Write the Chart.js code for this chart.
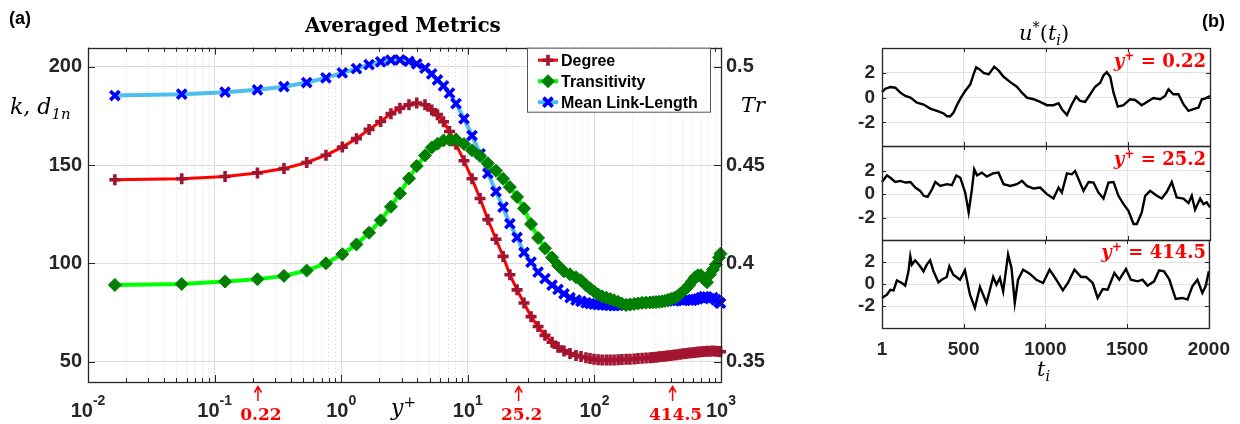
<!DOCTYPE html>
<html>
<head>
<meta charset="utf-8">
<script src="https://cdn.jsdelivr.net/npm/chart.js@4.4.1/dist/chart.umd.min.js"></script>
<style>
  body { margin: 0; background: #fff; width: 1240px; height: 424px; overflow: hidden; position: relative; font-family: "Liberation Sans", Arial, sans-serif; }
  canvas { position: absolute; }
  .lbl { position: absolute; white-space: nowrap; line-height: 1; color: #262626; }
  .math { font-family: "DejaVu Serif", serif; font-style: italic; }
  .tag { font-weight: bold; font-size: 18px; color: #000; }
  .red { color: #ff0000; font-family: "DejaVu Serif", serif; font-weight: bold; font-size: 18px; }
  sup, sub { font-size: 68%; line-height: 0; }
</style>
</head>
<body>
<canvas id="metrics" width="840" height="424" style="left:0;top:0"></canvas>
<canvas id="trace1" width="400" height="140" style="left:840px;top:28px"></canvas>
<canvas id="trace2" width="400" height="135" style="left:840px;top:126px"></canvas>
<canvas id="trace3" width="400" height="164" style="left:840px;top:220px"></canvas>

<div class="lbl tag" style="left:9px;top:9px">(a)</div>
<div class="lbl tag" style="left:1202px;top:12px">(b)</div>
<div class="lbl" style="left:305px;top:15px;font-family:'DejaVu Serif',serif;font-weight:bold;font-size:20px;color:#000">Averaged Metrics</div>
<div class="lbl math" style="left:10px;top:96px;font-size:22px;color:#000"><i>k</i>, <i>d</i><sub>1<i>n</i></sub></div>
<div class="lbl math" style="left:741px;top:95px;font-size:21px;color:#000">Tr</div>
<div class="lbl math" style="left:391px;top:397px;font-size:22px;color:#000">y<sup style="font-style:normal">+</sup></div>
<div class="lbl math" style="left:1019px;top:23px;font-size:21px;color:#000">u<sup style="font-style:normal">*</sup><span style="font-style:normal">(</span>t<sub>i</sub><span style="font-style:normal">)</span></div>
<div class="lbl math" style="left:1037px;top:359px;font-size:21px;color:#000">t<sub>i</sub></div>
<div class="lbl red" style="right:34px;top:52px"><i>y</i><sup>+</sup> = 0.22</div>
<div class="lbl red" style="right:34px;top:150px"><i>y</i><sup>+</sup> = 25.2</div>
<div class="lbl red" style="right:34px;top:243px"><i>y</i><sup>+</sup> = 414.5</div>

<script>
// ---------- panel (a): averaged network metrics against y+
const yPlus = [0.0163, 0.055, 0.121, 0.218, 0.353, 0.534, 0.758, 1.02, 1.32, 1.66,
  2.05, 2.47, 2.91, 3.43, 3.95, 4.59, 5.19, 5.76, 6.43, 7.17,
  8.07, 9.33, 10.8, 12.5, 14.4, 16.7, 19.0, 21.5, 24.5, 27.8,
  31.6, 35.9, 40.7, 46.3, 51.6, 57.5, 64.2, 71.6, 78.4, 85.8,
  92.3, 99.3, 107, 115, 124, 133, 143, 154, 165, 178,
  191, 206, 221, 238, 256, 275, 290, 307, 324, 342,
  361, 381, 403, 426, 449, 475, 501, 529, 559, 590,
  623, 658, 695, 734, 775, 819, 865, 913, 964, 991];

const degree = [142.5, 143.0, 144.2, 146.0, 148.2, 151.3, 155.0, 159.1, 163.4, 168.1,
  172.1, 176.1, 178.9, 180.6, 181.5, 180.6, 178.0, 175.6, 172.0, 167.0,
  160.5, 152.2, 143.0, 133.0, 122.3, 112.3, 103.6, 94.3, 86.6, 79.9,
  73.0, 68.0, 63.5, 60.0, 57.5, 55.6, 54.3, 53.3, 52.7, 52.1,
  51.7, 51.3, 51.1, 51.0, 51.0, 51.0, 51.0, 51.1, 51.2, 51.3,
  51.4, 51.5, 51.7, 51.8, 52.0, 52.1, 52.3, 52.4, 52.6, 52.7,
  52.9, 53.1, 53.3, 53.5, 53.7, 53.9, 54.1, 54.3, 54.5, 54.6,
  54.8, 55.0, 55.2, 55.3, 55.4, 55.4, 55.5, 55.4, 55.3, 55.2];

const meanLinkLength = [185.3, 186.0, 187.0, 188.2, 189.8, 191.9, 194.3, 196.8, 199.0, 201.0,
  202.4, 203.3, 203.4, 202.7, 201.4, 199.2, 196.3, 193.2, 190.2, 186.5,
  181.2, 173.5, 165.0, 155.7, 145.8, 136.5, 128.6, 120.2, 113.2, 105.6,
  100.7, 95.6, 92.3, 89.0, 86.8, 84.6, 82.6, 81.4, 80.8, 80.0,
  79.6, 79.3, 79.1, 79.0, 78.8, 78.7, 78.6, 78.7, 78.8, 79.0,
  79.3, 79.5, 79.7, 79.9, 80.1, 80.3, 80.5, 80.5, 80.7, 80.9,
  80.8, 81.1, 81.2, 81.0, 81.3, 81.5, 81.3, 81.6, 81.4, 81.2,
  81.7, 82.0, 82.6, 83.2, 83.0, 82.2, 82.6, 81.5, 80.4, 79.8];

const transitivity = [0.3891, 0.3896, 0.3908, 0.3920, 0.3937, 0.3964, 0.4001, 0.4047, 0.4097, 0.4156,
  0.4219, 0.4288, 0.4356, 0.4432, 0.4495, 0.4549, 0.4589, 0.4608, 0.4625, 0.4628,
  0.4630, 0.4607, 0.4575, 0.4546, 0.4509, 0.4471, 0.4430, 0.4388, 0.4338, 0.4280,
  0.4200, 0.4130, 0.4077, 0.4030, 0.3990, 0.3960, 0.3945, 0.3930, 0.3915, 0.3890,
  0.3874, 0.3858, 0.3843, 0.3833, 0.3826, 0.3820, 0.3813, 0.3805, 0.3796, 0.3789,
  0.3791, 0.3794, 0.3797, 0.3800, 0.3801, 0.3802, 0.3803, 0.3804, 0.3805, 0.3807,
  0.3810, 0.3815, 0.3820, 0.3825, 0.3831, 0.3845, 0.3858, 0.3872, 0.3890, 0.3910,
  0.3930, 0.3940, 0.3940, 0.3920, 0.3905, 0.3945, 0.3970, 0.3995, 0.4030, 0.4050];

// ticks of panel (a)
const xDecades = [0.01, 0.1, 1, 10, 100, 1000];
const xDecadeExp = ['-2', '-1', '0', '1', '2', '3'];
const xMinorSteps = [2, 3, 4, 5, 6, 7, 8, 9];
const kTicks = [50, 100, 150, 200];
const trTicks = [0.35, 0.4, 0.45, 0.5];
const legendOrder = ['Degree', 'Transitivity', 'Mean Link-Length'];

// heights marked with red arrows
const markedYPlus = [0.22, 25.2, 414.5];
const markedLabels = ['0.22', '25.2', '414.5'];

// ---------- panel (b): u*(t_i) at three heights
const t1 = [1, 21, 52, 82, 113, 143, 174, 214, 255, 295, 336, 377, 397, 417, 437, 458, 482, 508, 539, 559,
  575, 596, 620, 651, 685, 711, 742, 783, 823, 854, 884, 925, 965, 1006, 1046, 1077, 1097, 1128, 1158, 1184,
  1209, 1239, 1270, 1300, 1331, 1351, 1371, 1392, 1412, 1438, 1473, 1513, 1544, 1584, 1625, 1655, 1696, 1726, 1747, 1777,
  1808, 1838, 1869, 1899, 1930, 1950, 1970, 2000];
const u1 = [0.45, 0.72, 0.85, 0.8, 0.4, 0.13, 0, -0.4, -0.56, -0.88, -1.07, -1.28, -1.5, -1.5, -1.2, -0.6, 0, 0.53, 1.07, 1.87,
  2.45, 2.27, 2.0, 1.87, 2.48, 2.19, 1.68, 1.25, 0.88, 0.4, 0, -0.13, -0.35, -0.61, -0.61, -0.45, -0.93, -1.41, -0.53, 0.08,
  -0.27, -0.35, 0.27, 0.88, 1.2, 1.79, 2.05, 1.68, 0.4, -0.72, -0.61, -0.13, -0.19, -0.61, -0.27, -0.03, -0.13, 0.13, 0.67, 0.27,
  0.27, -0.53, -1.07, -0.93, -0.8, -0.13, -0.08, 0.13];

const t2 = [1, 31, 52, 82, 113, 143, 174, 204, 234, 255, 279, 306, 326, 356, 397, 427, 454, 478, 508, 529,
  549, 563, 580, 610, 640, 677, 711, 742, 783, 823, 854, 884, 925, 965, 1006, 1046, 1077, 1097, 1128, 1158,
  1178, 1199, 1229, 1260, 1290, 1320, 1351, 1381, 1412, 1442, 1473, 1503, 1534, 1554, 1584, 1605, 1635, 1676, 1706, 1737,
  1767, 1797, 1838, 1869, 1889, 1909, 1940, 1960, 1980, 2000];
const u2 = [1.04, 1.6, 1.4, 1.04, 1.13, 0.99, 1.04, 0.56, 0.28, -0.14, -0.23, 0.42, 1.04, 0.7, 0.85, 0.76, 1.6, 1.4, 0.14, -1.55,
  0.42, 2.11, 1.6, 1.83, 1.49, 1.77, 1.83, 0.85, 0.7, 0.85, 1.13, 0.7, 0.48, 0.56, 0, -0.37, 0.56, 0.14, 1.77, 1.69,
  1.97, 1.27, 0.28, 1.04, 0.99, 0.14, -0.37, 0.99, 1.04, -0.14, -0.85, -1.41, -2.54, -2.54, -1.55, -0.14, 0.28, -0.14, -0.37, 0.2,
  1.04, -0.28, -0.37, -0.76, -0.14, -1.32, -0.37, -0.85, -0.7, -1.13];

const t3 = [1, 31, 52, 72, 92, 123, 143, 163, 174, 184, 204, 234, 255, 275, 295, 316, 346, 366, 397, 413,
  437, 478, 508, 539, 569, 600, 640, 681, 701, 722, 742, 772, 793, 813, 833, 864, 904, 945, 986, 1026,
  1067, 1107, 1138, 1178, 1219, 1249, 1290, 1320, 1351, 1381, 1422, 1452, 1493, 1523, 1564, 1594, 1625, 1665, 1696, 1726,
  1757, 1797, 1838, 1869, 1899, 1930, 1960, 1980, 2000];
const u3 = [-1.27, -0.97, -0.52, -0.58, 0.33, 0.09, -0.15, 1.15, 2.52, 1.76, 2.15, 1.61, 1.15, 1.76, 2.15, 1.15, 0.15, 0.39, 0.64, 1.61,
  0.85, 0.39, 1.24, -0.97, -2.18, -0.27, -1.73, 0.64, -0.06, 0.55, -0.67, 2.67, 1.45, -1.73, 0.39, 1.3, 0.94, 0.39, 0.09, 1.3,
  0.39, -0.58, 0.09, 1.3, 0.64, 0.64, 0.09, -1.27, -0.45, -0.52, 1.0, 0.39, 1.36, 0.39, 0.24, 0.39, -0.15, 0.24, 1.24, 1.15,
  0.45, -1.36, -1.27, -1.42, -0.21, 0.39, -0.82, -0.21, 1.15];

const tTicks = [1, 500, 1000, 1500, 2000];
const uTicks = [-2, 0, 2];

// ---------- helpers
Chart.defaults.font.family = '"Liberation Sans", Arial, sans-serif';
const AXIS = '#262626';
const pairs = (xs, ys) => xs.map((x, i) => ({ x: x, y: ys[i] }));
const isDecade = v => Math.abs(Math.log10(v) - Math.round(Math.log10(v))) < 1e-6;
const xTickValues = xDecades.concat(
  xDecades.slice(0, -1).flatMap(d => xMinorSteps.map(m => d * m)));

function drawMark(ctx, style, x, y, r) {
  ctx.beginPath();
  if (style === 'cross') {
    ctx.moveTo(x - r, y); ctx.lineTo(x + r, y);
    ctx.moveTo(x, y - r); ctx.lineTo(x, y + r);
    ctx.stroke();
  } else if (style === 'crossRot') {
    const d = r * Math.SQRT1_2;
    ctx.moveTo(x - d, y - d); ctx.lineTo(x + d, y + d);
    ctx.moveTo(x + d, y - d); ctx.lineTo(x - d, y + d);
    ctx.stroke();
  } else {
    ctx.moveTo(x - r, y); ctx.lineTo(x, y - r); ctx.lineTo(x + r, y); ctx.lineTo(x, y + r);
    ctx.closePath(); ctx.fill(); ctx.stroke();
  }
}

// box, inward ticks, 10^n labels, arrows and legend of panel (a)
const metricsDecor = {
  id: 'metricsDecor',
  afterDraw(chart) {
    const { ctx, chartArea: a, scales } = chart;
    ctx.save();
    ctx.strokeStyle = AXIS;
    ctx.lineWidth = 1;
    ctx.beginPath();
    scales.x.ticks.forEach(t => {
      const px = Math.round(scales.x.getPixelForValue(t.value)) + 0.5;
      const len = isDecade(t.value) ? 7 : 4;
      ctx.moveTo(px, a.bottom); ctx.lineTo(px, a.bottom - len);
      ctx.moveTo(px, a.top); ctx.lineTo(px, a.top + len);
    });
    scales.y.ticks.forEach(t => {
      const py = Math.round(scales.y.getPixelForValue(t.value)) + 0.5;
      ctx.moveTo(a.left, py); ctx.lineTo(a.left + 7, py);
    });
    scales.y2.ticks.forEach(t => {
      const py = Math.round(scales.y2.getPixelForValue(t.value)) + 0.5;
      ctx.moveTo(a.right, py); ctx.lineTo(a.right - 7, py);
    });
    ctx.stroke();
    ctx.lineWidth = 1.3;
    ctx.strokeRect(Math.round(a.left) + 0.5, Math.round(a.top) + 0.5, Math.round(a.width), Math.round(a.height));

    // decade labels 10^n
    ctx.fillStyle = AXIS;
    ctx.textAlign = 'left';
    ctx.textBaseline = 'alphabetic';
    xDecades.forEach((v, i) => {
      const px = scales.x.getPixelForValue(v);
      ctx.font = 'bold 20px "Liberation Sans"';
      const wb = ctx.measureText('10').width;
      ctx.font = 'bold 14px "Liberation Sans"';
      const we = ctx.measureText(xDecadeExp[i]).width;
      const x0 = px - (wb + we) / 2;
      ctx.font = 'bold 20px "Liberation Sans"';
      ctx.fillText('10', x0, 417);
      ctx.font = 'bold 14px "Liberation Sans"';
      ctx.fillText(xDecadeExp[i], x0 + wb, 405);
    });

    // red arrows at the sampled heights
    ctx.strokeStyle = '#ff0000';
    ctx.fillStyle = '#ff0000';
    ctx.lineWidth = 1.5;
    markedYPlus.forEach((v, i) => {
      const px = scales.x.getPixelForValue(v);
      ctx.beginPath();
      ctx.moveTo(px, 401); ctx.lineTo(px, 388);
      ctx.moveTo(px - 3.5, 392.5); ctx.lineTo(px, 386.5); ctx.lineTo(px + 3.5, 392.5);
      ctx.stroke();
      ctx.font = 'bold 17px "DejaVu Serif"';
      ctx.textAlign = 'center';
      ctx.fillText(markedLabels[i], px + 3, 420);
    });

    // legend box
    const lx = a.right - 194, ly = a.top, lw = 183, lh = 64;
    ctx.fillStyle = '#fff';
    ctx.fillRect(lx, ly, lw, lh);
    ctx.strokeStyle = '#555';
    ctx.lineWidth = 1;
    ctx.strokeRect(lx + 0.5, ly + 0.5, lw, lh);
    ctx.textAlign = 'left';
    ctx.textBaseline = 'middle';
    legendOrder.forEach((name, i) => {
      const ds = chart.data.datasets.find(d => d.label === name);
      const y = ly + 12.5 + i * 21;
      ctx.strokeStyle = ds.borderColor;
      ctx.lineWidth = ds.borderWidth;
      ctx.beginPath(); ctx.moveTo(lx + 11, y); ctx.lineTo(lx + 31, y); ctx.stroke();
      ctx.strokeStyle = ds.pointBorderColor;
      ctx.fillStyle = ds.pointBackgroundColor || ds.pointBorderColor;
      ctx.lineWidth = ds.pointBorderWidth;
      drawMark(ctx, ds.pointStyle, lx + 21, y, ds.pointRadius);
      ctx.fillStyle = '#000';
      ctx.font = 'bold 16px "Liberation Sans"';
      ctx.fillText(name, lx + 34, y + 1);
    });
    ctx.restore();
  }
};

new Chart(document.getElementById('metrics'), {
  type: 'line',
  data: {
    datasets: [
      {
        label: 'Transitivity', yAxisID: 'y2', data: pairs(yPlus, transitivity),
        borderColor: '#00ff00', borderWidth: 4, pointStyle: 'rectRot', pointRadius: 6.5,
        pointBackgroundColor: '#007f00', pointBorderColor: '#007f00', pointBorderWidth: 1, clip: false
      },
      {
        label: 'Mean Link-Length', yAxisID: 'y', data: pairs(yPlus, meanLinkLength),
        borderColor: '#4dbeee', borderWidth: 4, pointStyle: 'crossRot', pointRadius: 6.5,
        pointBorderColor: '#0000ff', pointBorderWidth: 3.6, clip: false
      },
      {
        label: 'Degree', yAxisID: 'y', data: pairs(yPlus, degree),
        borderColor: '#ff0000', borderWidth: 3, pointStyle: 'cross', pointRadius: 5.5,
        pointBorderColor: '#a2142f', pointBorderWidth: 3.6, clip: false
      }
    ]
  },
  options: {
    responsive: false,
    animation: false,
    events: [],
    layout: { padding: { top: 47.7, left: 0, right: 0, bottom: 0 } },
    plugins: { legend: { display: false }, tooltip: { enabled: false } },
    scales: {
      x: {
        type: 'logarithmic', min: 0.01, max: 1000,
        afterBuildTicks: s => { s.ticks = xTickValues.map(v => ({ value: v })); },
        afterFit: s => { s.height = 42; },
        ticks: { display: false },
        grid: { drawTicks: false, color: c => (c.tick && isDecade(c.tick.value)) ? '#dcdcdc' : '#e2e2e2' },
        border: { display: false, dash: c => (c.tick && !isDecade(c.tick.value)) ? [1.5, 2.5] : [] }
      },
      y: {
        position: 'left', min: 39.8, max: 209.6,
        afterBuildTicks: s => { s.ticks = kTicks.map(v => ({ value: v })); },
        afterFit: s => { s.width = 88; },
        grid: { drawTicks: false, color: '#dcdcdc' },
        border: { display: false },
        ticks: { padding: 6, color: AXIS, font: { size: 20, weight: 'bold' } }
      },
      y2: {
        position: 'right', min: 0.3398, max: 0.5096,
        afterBuildTicks: s => { s.ticks = trTicks.map(v => ({ value: v })); },
        afterFit: s => { s.width = 119; },
        grid: { drawTicks: false, drawOnChartArea: false },
        border: { display: false },
        ticks: { padding: 5, color: AXIS, font: { size: 20, weight: 'bold' }, callback: v => String(+v.toFixed(2)) }
      }
    }
  },
  plugins: [metricsDecor]
});

// ---------- panel (b) traces
const traceBox = {
  id: 'traceBox',
  afterDraw(chart) {
    const { ctx, chartArea: a, scales } = chart;
    ctx.save();
    ctx.strokeStyle = AXIS;
    ctx.lineWidth = 1;
    ctx.beginPath();
    scales.x.ticks.forEach(t => {
      const px = Math.round(scales.x.getPixelForValue(t.value)) + 0.5;
      ctx.moveTo(px, a.bottom); ctx.lineTo(px, a.bottom - 4);
      ctx.moveTo(px, a.top); ctx.lineTo(px, a.top + 4);
    });
    scales.y.ticks.forEach(t => {
      const py = Math.round(scales.y.getPixelForValue(t.value)) + 0.5;
      ctx.moveTo(a.left, py); ctx.lineTo(a.left + 4, py);
      ctx.moveTo(a.right, py); ctx.lineTo(a.right - 4, py);
    });
    ctx.stroke();
    ctx.lineWidth = 1.3;
    ctx.strokeRect(Math.round(a.left) + 0.5, Math.round(a.top) + 0.5, Math.round(a.width), Math.round(a.height));
    ctx.restore();
  }
};

function makeTrace(id, ts, us, yMin, yMax, padTop, xHeight, showT) {
  new Chart(document.getElementById(id), {
    type: 'line',
    data: {
      datasets: [{
        data: pairs(ts, us), borderColor: '#000', borderWidth: 2.4,
        pointRadius: 0, tension: 0, clip: false
      }]
    },
    options: {
      responsive: false,
      animation: false,
      events: [],
      layout: { padding: { top: padTop, left: 0, right: 30, bottom: 0 } },
      plugins: { legend: { display: false }, tooltip: { enabled: false } },
      scales: {
        x: {
          type: 'linear', min: 1, max: 2000,
          afterBuildTicks: s => { s.ticks = tTicks.map(v => ({ value: v })); },
          afterFit: s => { s.height = xHeight; },
          grid: { drawTicks: false, color: '#e2e2e2' },
          border: { display: false },
          ticks: { display: showT, padding: 10, color: AXIS, font: { size: 19, weight: 'bold' }, callback: v => String(v) }
        },
        y: {
          min: yMin, max: yMax,
          afterBuildTicks: s => { s.ticks = uTicks.map(v => ({ value: v })); },
          afterFit: s => { s.width = 42; },
          grid: { drawTicks: false, color: '#e2e2e2' },
          border: { display: false },
          ticks: { padding: 7, color: AXIS, font: { size: 19, weight: 'bold' }, callback: v => String(v) }
        }
      }
    },
    plugins: [traceBox]
  });
}

makeTrace('trace1', t1, u1, -3.9, 4.0, 20, 22, false);
makeTrace('trace2', t2, u2, -3.9, 4.1, 20, 21, false);
makeTrace('trace3', t3, u3, -4.0, 4.0, 20, 56, true);
</script>
</body>
</html>
